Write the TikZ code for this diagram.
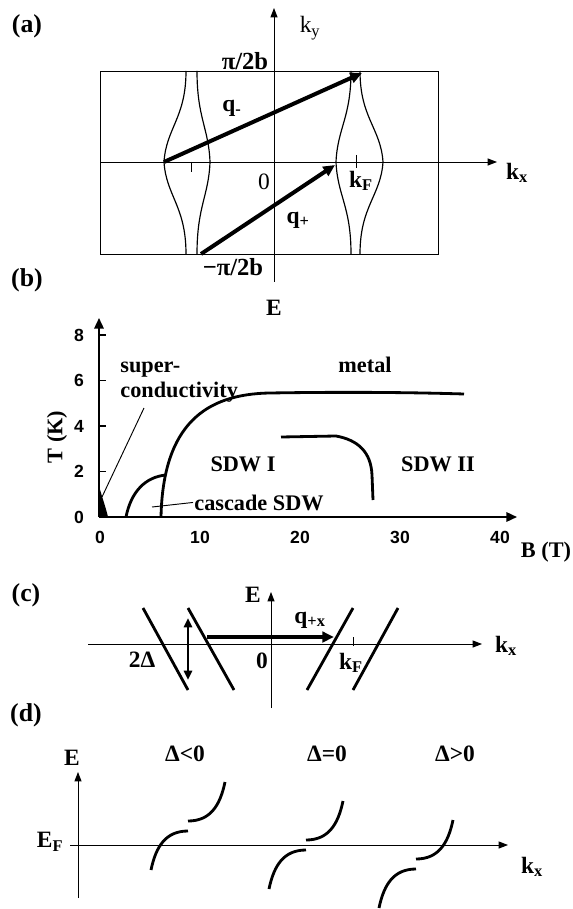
\documentclass[tikz,border=0pt]{standalone}
\usepackage{fontspec}
\setmainfont{Liberation Serif}
\newfontfamily\arialfont{Liberation Sans}
\usetikzlibrary{arrows.meta, positioning, calc}

\begin{document}
\begin{tikzpicture}[x=0.03cm, y=-0.03cm,
    lbl/.style={font=\fontsize{20}{22}\selectfont\bfseries, inner sep=1pt},
    rlbl/.style={font=\fontsize{20}{22}\selectfont, inner sep=1pt},
    blbl/.style={font=\fontsize{19}{22}\selectfont\bfseries, inner sep=1pt},
    pnl/.style={font=\fontsize{22}{26}\selectfont\bfseries, inner sep=1pt},
    tck/.style={font=\fontsize{15}{17}\selectfont\arialfont\bfseries, inner sep=1pt},
    ax/.style={line width=0.8pt, -{Triangle[length=8pt,width=6pt]}},
    axb/.style={line width=1.6pt, -{Triangle[length=9pt,width=8pt]}},
    qarr/.style={line width=3.4pt, -{Triangle[length=10pt,width=9pt]}},
    band/.style={line width=2.4pt},
    ptr/.style={line width=0.8pt}
  ]
  \useasboundingbox (0,0) rectangle (573,909);

  % (a) Fermi surface
  \node[pnl] (pa) at (27,26) {(a)};
  \draw[line width=0.8pt] (100,71) rectangle (438,254);
  \coordinate (kxS) at (100,162); \coordinate (kxE) at (497,162);
  \coordinate (kyS) at (274,282); \coordinate (kyE) at (274,8);
  \draw[ax] (kxS) -- (kxE);
  \draw[ax] (kyS) -- (kyE);
  \foreach \xt/\xc in {186/164, 197/210, 351/336, 360/383}
    \draw[line width=1pt] (\xt,71) .. controls (\xt,118) and ({\xc+0.1*(\xt-\xc)},128) .. (\xc,162)
      .. controls ({\xc+0.1*(\xt-\xc)},196) and (\xt,206) .. (\xt,254);
  \draw[line width=0.8pt] (191,162) -- (191,172);
  \draw[line width=0.8pt] (356,155) -- (356,168);
  \coordinate (qmS) at (164,162); \coordinate (qmE) at (362,73);
  \coordinate (qpS) at (201,254); \coordinate (qpE) at (335,165);
  \draw[qarr] (qmS) -- (qmE);
  \draw[qarr] (qpS) -- (qpE);
  \node[rlbl] (kyl) at (310,28) {k\textsubscript{y}};
  \node[lbl] (kxl) at (517,173) {k\textsubscript{x}};
  \node[lbl, anchor=base, font=\fontsize{21}{24}\selectfont\bfseries] (pib) at (245,70) {π/2b};
  \node[lbl, anchor=base, font=\fontsize{21}{24}\selectfont\bfseries] (mpib) at (233,276) {−π/2b};
  \node[rlbl] (za) at (264,182) {0};
  \node[lbl] (kFa) at (361,181) {k\textsubscript{F}};
  \node[lbl] (qm) at (232,108) {q\textsubscript{-}};
  \node[lbl] (qp) at (298,220) {q\textsubscript{+}};

  % (b) phase diagram
  \node[pnl] (pb) at (27,280) {(b)};
  \node[lbl] (Eb) at (274,308) {E};
  \coordinate (TS) at (99,517); \coordinate (TE) at (99,318); \coordinate (BE) at (517,517);
  \draw[axb] (TS) -- (TE);
  \draw[axb] (TS) -- (BE);
  \foreach \t in {2,4,6,8}
    \draw[line width=1.2pt] (99,{517-22.75*\t}) -- (106,{517-22.75*\t});
  \foreach \t in {0,2,4,6,8}
    \node[tck] (tl\t) at (79,{517-22.75*\t}) {\t};
  \foreach \b in {0,10,20,30,40}
    \node[tck] (bl\b) at ({100+10*\b},537) {\b};
  \fill (99,486) .. controls (102,497) and (106,508) .. (108,517) -- (99,517) -- cycle;
  \draw[band] (161,517) .. controls (163,425) and (205,394) .. (270,393)
    .. controls (330,392) and (400,392) .. (464,394);
  \draw[band] (126,517) .. controls (131,492) and (145,477) .. (166,475);
  \draw[band] (281,437) -- (336,436) .. controls (358,440) and (371,452) .. (372,475) -- (373,500);
  \node[blbl, anchor=base west] (sc1) at (119,372) {super-};
  \node[blbl, anchor=base west] (sc2) at (119,397) {conductivity};
  \node[blbl, anchor=base] (metal) at (365,372) {metal};
  \node[blbl, anchor=base] (sdw1) at (243,471) {SDW I};
  \node[blbl, anchor=base] (sdw2) at (438,471) {SDW II};
  \node[blbl, anchor=base west] (cas) at (193,510) {cascade SDW};
  \node[blbl, rotate=90] (Tl) at (57,437) {T (K)};
  \node[blbl] (Bl) at (546,552) {B (T)};
  \coordinate (scA) at (144,408); \coordinate (scP) at (102,497);
  \coordinate (casP) at (152,507);
  \draw[ptr] (scA) -- (scP);
  \draw[ptr] (cas.west) -- (casP);

  % (c) nesting of open sheets
  \node[pnl] (pc) at (26,595) {(c)};
  \coordinate (cEs) at (271,708); \coordinate (cEe) at (271,592);
  \coordinate (ckS) at (88,644); \coordinate (ckE) at (482,644);
  \draw[ax] (cEs) -- (cEe);
  \draw[ax] (ckS) -- (ckE);
  \foreach \xt/\xb in {143/188, 188/234, 353/307, 398/353}
    \draw[band] (\xt,608) -- (\xb,690);
  \coordinate (gA) at (188,618); \coordinate (gB) at (188,680);
  \draw[line width=2pt, {Triangle[length=8pt,width=7pt]}-{Triangle[length=8pt,width=7pt]}] (gA) -- (gB);
  \coordinate (qxS) at (207,637); \coordinate (qxE) at (334,637);
  \draw[qarr] (qxS) -- (qxE);
  \draw[line width=0.8pt] (353,637) -- (353,646);
  \node[lbl] (Ec) at (253,595) {E};
  \node[lbl] (qx) at (310,620) {q\textsubscript{+x}};
  \node[lbl] (gap) at (142,660) {2Δ};
  \node[lbl] (zc) at (262,661) {0};
  \node[lbl] (kFc) at (351,663) {k\textsubscript{F}};
  \node[lbl] (kxc) at (506,646) {k\textsubscript{x}};

  % (d) bands near E_F
  \node[pnl] (pd) at (26,715) {(d)};
  \coordinate (dEs) at (78,898); \coordinate (dEe) at (78,772);
  \coordinate (dkS) at (70,845); \coordinate (dkE) at (508,845);
  \draw[ax] (dEs) -- (dEe);
  \draw[ax] (dkS) -- (dkE);
  \foreach \xj/\yj in {188/826, 306/845, 416/864} {
    \draw[band] (\xj-37,\yj+44) .. controls (\xj-32,\yj+20) and (\xj-22,\yj+5) .. (\xj,\yj+5);
    \draw[band] (\xj,\yj-5) .. controls (\xj+22,\yj-5) and (\xj+32,\yj-20) .. (\xj+37,\yj-44);
  }
  \node[lbl] (Ed) at (72,758) {E};
  \node[lbl] (EF) at (50,842) {E\textsubscript{F}};
  \node[lbl] (kxd) at (532,867) {k\textsubscript{x}};
  \node[lbl] (dneg) at (185,754) {Δ<0};
  \node[lbl] (dzero) at (327,754) {Δ=0};
  \node[lbl] (dpos) at (455,754) {Δ>0};
\end{tikzpicture}
\end{document}
